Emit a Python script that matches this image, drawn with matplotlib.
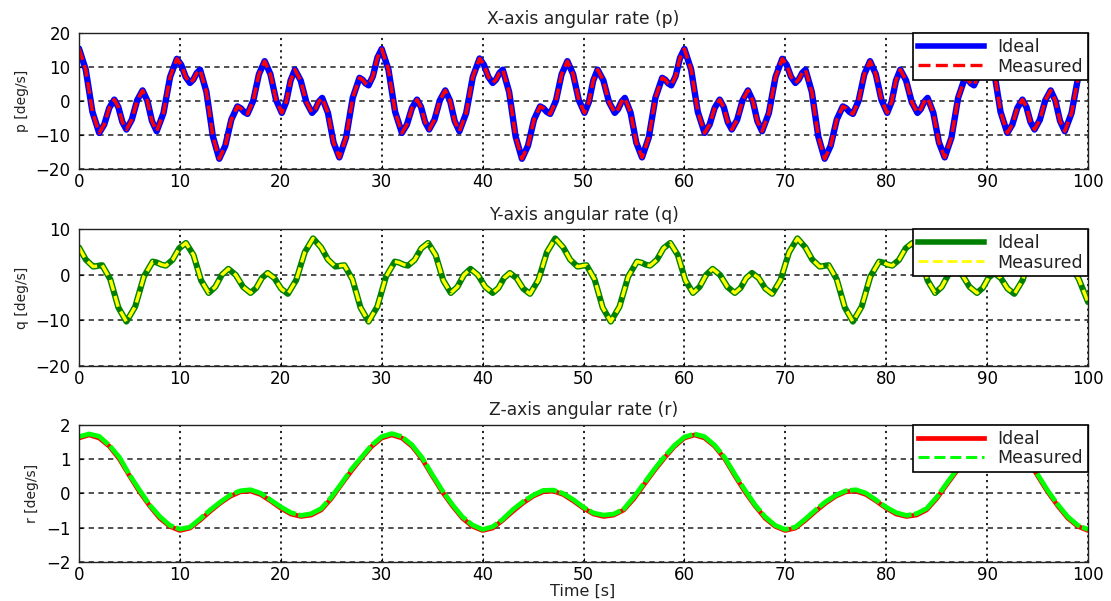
import matplotlib
matplotlib.use("Agg")
import matplotlib.pyplot as plt
from matplotlib.lines import Line2D

# ---------------- data ----------------
p_time = [0, 0.67, 1.33, 2.0, 2.5, 3.0, 3.5, 3.9, 4.3, 4.7, 5.23, 5.77, 6.3, 6.77, 7.23, 7.7, 8.37, 9.03, 9.7, 10.13, 10.57, 11.0, 11.33, 11.67, 12.0, 12.63, 13.27, 13.9, 14.5, 15.1, 15.7, 16.03, 16.37, 16.7, 17.27, 17.83, 18.4, 18.97, 19.53, 20.1, 20.53, 20.97, 21.4, 21.97, 22.53, 23.1, 23.43, 23.77, 24.1, 24.67, 25.23, 25.8, 26.47, 27.13, 27.8, 28.1, 28.4, 28.7, 29.13, 29.57,
          30, 30.67, 31.33, 32.0, 32.5, 33.0, 33.5, 33.9, 34.3, 34.7, 35.23, 35.77, 36.3, 36.77, 37.23, 37.7, 38.37, 39.03, 39.7, 40.13, 40.57, 41.0, 41.33, 41.67, 42.0, 42.63, 43.27, 43.9, 44.5, 45.1, 45.7, 46.03, 46.37, 46.7, 47.27, 47.83, 48.4, 48.97, 49.53, 50.1, 50.53, 50.97, 51.4, 51.97, 52.53, 53.1, 53.43, 53.77, 54.1, 54.67, 55.23, 55.8, 56.47, 57.13, 57.8, 58.1, 58.4, 58.7, 59.13, 59.57,
          60, 60.67, 61.33, 62.0, 62.5, 63.0, 63.5, 63.9, 64.3, 64.7, 65.23, 65.77, 66.3, 66.77, 67.23, 67.7, 68.37, 69.03, 69.7, 70.13, 70.57, 71.0, 71.33, 71.67, 72.0, 72.63, 73.27, 73.9, 74.5, 75.1, 75.7, 76.03, 76.37, 76.7, 77.27, 77.83, 78.4, 78.97, 79.53, 80.1, 80.53, 80.97, 81.4, 81.97, 82.53, 83.1, 83.43, 83.77, 84.1, 84.67, 85.23, 85.8, 86.47, 87.13, 87.8, 88.1, 88.4, 88.7, 89.13, 89.57,
          90, 90.67, 91.33, 92.0, 92.5, 93.0, 93.5, 93.9, 94.3, 94.7, 95.23, 95.77, 96.3, 96.77, 97.23, 97.7, 98.37, 99.03, 99.7, 100.0]
p_ideal = [15.5, 9.3, -3.1, -9.3, -6.85, -1.95, 0.5, -1.7, -6.1, -8.3, -5.43, 0.33, 3.2, 0.2, -5.8, -8.8, -3.48, 7.18, 12.5, 10.73, 7.18, 5.4, 6.38, 8.33, 9.3, 2.75, -10.35, -16.9, -13.05, -5.35, -1.5, -2.05, -3.15, -3.7, 0.18, 7.93, 11.8, 8.0, 0.4, -3.4, -0.23, 6.13, 9.3, 6.13, -0.23, -3.4, -2.3, -0.1, 1.0, -3.38, -12.13, -16.5, -10.65, 1.05, 6.9, 6.35, 5.25, 4.7, 7.4, 12.8,
           15.4, 9.3, -3.1, -9.3, -6.85, -1.95, 0.5, -1.7, -6.1, -8.3, -5.43, 0.33, 3.2, 0.2, -5.8, -8.8, -3.48, 7.18, 12.6, 10.73, 7.18, 5.4, 6.38, 8.33, 9.3, 2.75, -10.35, -16.9, -13.05, -5.35, -1.5, -2.05, -3.15, -3.7, 0.18, 7.93, 11.8, 8.0, 0.4, -3.4, -0.23, 6.13, 9.3, 6.13, -0.23, -3.4, -2.3, -0.1, 1.0, -3.38, -12.13, -16.5, -10.65, 1.05, 6.9, 6.35, 5.25, 4.7, 7.4, 12.8,
           15.4, 9.3, -3.1, -9.3, -6.85, -1.95, 0.5, -1.7, -6.1, -8.3, -5.43, 0.33, 3.2, 0.2, -5.8, -8.8, -3.48, 7.18, 12.5, 10.73, 7.18, 5.4, 6.38, 8.33, 9.3, 2.75, -10.35, -16.9, -13.05, -5.35, -1.5, -2.05, -3.15, -3.7, 0.18, 7.93, 11.8, 8.0, 0.4, -3.4, -0.23, 6.13, 9.3, 6.13, -0.23, -3.4, -2.3, -0.1, 1.0, -3.38, -12.13, -16.5, -10.65, 1.05, 6.9, 6.35, 5.25, 4.7, 7.4, 12.8,
           15.5, 9.3, -3.1, -9.3, -6.85, -1.95, 0.5, -1.7, -6.1, -8.3, -5.43, 0.33, 3.2, 0.2, -5.8, -8.8, -3.48, 7.18, 12.5, 11.6]
p_measured = list(p_ideal)   # the dashed trace lies on top of the ideal one

q_time = [0, 0.67, 1.4, 1.7, 2.0, 2.3, 3.1, 3.9, 4.7, 5.57, 6.43, 7.3, 7.73, 8.17, 8.6, 9.27, 9.93, 10.6, 11.35, 12.1, 12.85, 13.5, 14.15, 14.8, 15.53, 16.27, 17.0, 17.57, 18.13, 18.7, 19.37, 20.03, 20.7, 21.53, 22.37, 23.2,
          24, 24.67, 25.4, 25.7, 26.0, 26.3, 27.1, 27.9, 28.7, 29.57, 30.43, 31.3, 31.73, 32.17, 32.6, 33.27, 33.93, 34.6, 35.35, 36.1, 36.85, 37.5, 38.15, 38.8, 39.53, 40.27, 41.0, 41.57, 42.13, 42.7, 43.37, 44.03, 44.7, 45.53, 46.37, 47.2,
          48, 48.67, 49.4, 49.7, 50.0, 50.3, 51.1, 51.9, 52.7, 53.57, 54.43, 55.3, 55.73, 56.17, 56.6, 57.27, 57.93, 58.6, 59.35, 60.1, 60.85, 61.5, 62.15, 62.8, 63.53, 64.27, 65.0, 65.57, 66.13, 66.7, 67.37, 68.03, 68.7, 69.53, 70.37, 71.2,
          72, 72.67, 73.4, 73.7, 74.0, 74.3, 75.1, 75.9, 76.7, 77.57, 78.43, 79.3, 79.73, 80.17, 80.6, 81.27, 81.93, 82.6, 83.35, 84.1, 84.85, 85.5, 86.15, 86.8, 87.53, 88.27, 89.0, 89.57, 90.13, 90.7, 91.37, 92.03, 92.7, 93.53, 94.37, 95.2,
          96, 96.67, 97.4, 97.7, 98.0, 98.3, 99.1, 100.0]
q_ideal = [6.0, 3.35, 1.8, 1.88, 2.03, 2.1, -1.0, -7.2, -10.3, -7.0, -0.4, 2.9, 2.68, 2.23, 2.0, 3.28, 5.83, 7.0, 4.33, -1.23, -4.0, -2.68, -0.03, 1.3, -0.03, -2.68, -4.0, -2.9, -0.7, 0.4, -0.75, -3.05, -4.2, -1.15, 4.95, 8.0,
           6.0, 3.35, 1.8, 1.88, 2.03, 2.1, -1.0, -7.2, -10.3, -7.0, -0.4, 2.9, 2.68, 2.23, 2.0, 3.28, 5.83, 7.0, 4.33, -1.23, -4.0, -2.68, -0.03, 1.3, -0.03, -2.68, -4.0, -2.9, -0.7, 0.4, -0.75, -3.05, -4.2, -1.15, 4.95, 8.0,
           6.0, 3.35, 1.8, 1.88, 2.03, 2.1, -1.0, -7.2, -10.3, -7.0, -0.4, 2.9, 2.68, 2.23, 2.0, 3.28, 5.83, 7.0, 4.33, -1.23, -4.0, -2.68, -0.03, 1.3, -0.03, -2.68, -4.0, -2.9, -0.7, 0.4, -0.75, -3.05, -4.2, -1.15, 4.95, 8.0,
           6.0, 3.35, 1.8, 1.88, 2.03, 2.1, -1.0, -7.2, -10.3, -7.0, -0.4, 2.9, 2.68, 2.23, 2.0, 3.28, 5.83, 7.0, 4.33, -1.23, -4.0, -2.68, -0.03, 1.3, -0.03, -2.68, -4.0, -2.9, -0.7, 0.4, -0.75, -3.05, -4.2, -1.15, 4.95, 8.0,
           6.0, 3.35, 1.8, 1.88, 2.03, 2.1, -1.0, -6.0]
q_measured = list(q_ideal)   # the dashed trace lies on top of the ideal one

r_time = list(range(0, 101))
r_ideal = [1.62, 1.71, 1.62, 1.38, 1.01, 0.52, 0.05, -0.36, -0.72, -0.96, -1.08, -1.01, -0.78, -0.52, -0.28, -0.08, 0.05, 0.07, -0.03, -0.22, -0.43, -0.60, -0.67, -0.63, -0.48, -0.15, 0.26, 0.66, 1.03, 1.37,
           1.62, 1.71, 1.62, 1.38, 1.01, 0.52, 0.05, -0.36, -0.72, -0.96, -1.08, -1.01, -0.78, -0.52, -0.28, -0.08, 0.05, 0.07, -0.03, -0.22, -0.43, -0.60, -0.67, -0.63, -0.48, -0.15, 0.26, 0.66, 1.03, 1.37,
           1.62, 1.71, 1.62, 1.38, 1.01, 0.52, 0.05, -0.36, -0.72, -0.96, -1.08, -1.01, -0.78, -0.52, -0.28, -0.08, 0.05, 0.07, -0.03, -0.22, -0.43, -0.60, -0.67, -0.63, -0.48, -0.15, 0.26, 0.66, 1.03, 1.37,
           1.62, 1.71, 1.62, 1.38, 1.01, 0.52, 0.05, -0.36, -0.72, -0.96, -1.08]
r_measured = [1.66, 1.74, 1.67, 1.41, 1.06, 0.55, 0.10, -0.33, -0.67, -0.93, -1.04, -0.98, -0.74, -0.48, -0.25, -0.04, 0.08, 0.11, 0.01, -0.19, -0.39, -0.56, -0.64, -0.59, -0.44, -0.11, 0.29, 0.71, 1.06, 1.41,
              1.66, 1.75, 1.66, 1.42, 1.05, 0.56, 0.09, -0.32, -0.68, -0.92, -1.05, -0.97, -0.75, -0.47, -0.24, -0.05, 0.09, 0.10, 0.00, -0.18, -0.40, -0.57, -0.63, -0.60, -0.45, -0.10, 0.30, 0.70, 1.07, 1.40,
              1.65, 1.74, 1.66, 1.41, 1.05, 0.56, 0.10, -0.33, -0.68, -0.93, -1.05, -0.98, -0.74, -0.48, -0.24, -0.05, 0.08, 0.11, 0.01, -0.19, -0.40, -0.56, -0.64, -0.59, -0.44, -0.11, 0.30, 0.70, 1.07, 1.41,
              1.66, 1.74, 1.66, 1.42, 1.05, 0.56, 0.09, -0.32, -0.68, -0.93, -1.05]

x_ticks = [0, 10, 20, 30, 40, 50, 60, 70, 80, 90, 100]
p_yticks = [-20, -10, 0, 10, 20]
q_yticks = [-20, -10, 0, 10]
r_yticks = [-2, -1, 0, 1, 2]

titles = ["X-axis angular rate (p)", "Y-axis angular rate (q)", "Z-axis angular rate (r)"]
ylabels = ["p [deg/s]", "q [deg/s]", "r [deg/s]"]
legend_labels = ["Ideal", "Measured"]
xlabel_text = "Time [s]"

# ---------------- figure ----------------
W, H = 1111, 601
plt.rcParams['font.family'] = ['DejaVu Sans']
fig = plt.figure(figsize=(W / 100, H / 100), dpi=100)


def box(left, top, right, bottom):
    return [left / W, 1 - bottom / H, (right - left) / W, (bottom - top) / H]


panels = [
    dict(rect=box(79, 33.3, 1088, 169.3), t=p_time, a=p_ideal, b=p_measured,
         ca='#0000FF', cb='#FF0000', lwa=4.6, lwb=2.5, dash=(3.4, 1.6),
         leg_lwa=4.0, leg_lwb=2.4, leg_dash=(3.6, 1.6),
         ylim=(-20, 20), yt=p_yticks),
    dict(rect=box(79, 229.3, 1088, 365.7), t=q_time, a=q_ideal, b=q_measured,
         ca='#008000', cb='#FFFF00', lwa=4.4, lwb=2.4, dash=(3.4, 1.6),
         leg_lwa=4.0, leg_lwb=2.0, leg_dash=(3.6, 1.6),
         ylim=(-20, 10), yt=q_yticks),
    dict(rect=box(79, 425.0, 1088, 562.0), t=r_time, a=r_ideal, b=r_measured,
         ca='#FF0000', cb='#00FF00', lwa=3.4, lwb=3.4, dash=(7.0, 0.5),
         leg_lwa=3.4, leg_lwb=2.2, leg_dash=(3.6, 1.6),
         ylim=(-2, 2), yt=r_yticks),
]

for i, pn in enumerate(panels):
    ax = fig.add_axes(pn['rect'])
    ax.set_axisbelow(True)
    ax.grid(axis='x', color='#111111', linestyle=(0, (1.2, 2.2)), linewidth=1.3)
    ax.grid(axis='y', color='#333333', linestyle=(0, (3.2, 2.6)), linewidth=1.2)
    ax.plot(pn['t'], pn['a'], color=pn['ca'], lw=pn['lwa'], solid_joinstyle='round',
            solid_capstyle='round')
    ax.plot(pn['t'], pn['b'], color=pn['cb'], lw=pn['lwb'], linestyle=(0, pn['dash']),
            dash_capstyle='butt')
    ax.set_xlim(0, 100)
    ax.set_ylim(*pn['ylim'])
    ax.set_xticks(x_ticks)
    ax.set_yticks(pn['yt'])
    ax.tick_params(direction='in', length=3, width=0.8, labelsize=12, pad=6,
                   colors='black')
    ax.tick_params(axis='x', pad=3)
    for s in ax.spines.values():
        s.set_linewidth(1.0)
        s.set_color('#222222')
    ax.set_title(titles[i], fontsize=12.3, pad=7, color='#222222')
    ax.set_ylabel(ylabels[i], fontsize=10, labelpad=5, color='#222222')
    handles = [Line2D([], [], color=pn['ca'], lw=pn['leg_lwa']),
               Line2D([], [], color=pn['cb'], lw=pn['leg_lwb'],
                      linestyle=(0, pn['leg_dash']), dash_capstyle='butt')]
    leg = ax.legend(handles, legend_labels, loc='upper right', borderaxespad=0,
                    fontsize=12.5, handlelength=3.8, handletextpad=0.8,
                    borderpad=0.28, labelspacing=0.08, fancybox=False,
                    framealpha=1, edgecolor='black')
    leg.get_frame().set_linewidth(1.2)
    for txt in leg.get_texts():
        txt.set_color('#222222')

# x-axis label of the bottom panel, kept inside the canvas
fig.text(583 / W, 2.5 / H, xlabel_text, fontsize=11.5, ha='center', va='bottom',
         color='#222222')

fig.savefig("out.png", dpi=100)
